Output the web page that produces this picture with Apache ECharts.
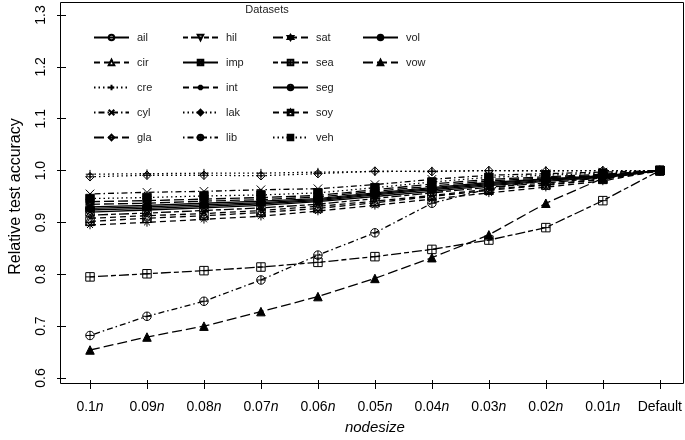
<!DOCTYPE html>
<html><head><meta charset="utf-8">
<script src="https://cdn.jsdelivr.net/npm/echarts@6/dist/echarts.min.js"></script>
<style>html,body{margin:0;padding:0;background:#fff}#c{width:685px;height:440px}</style>
</head><body><div id="c"></div>
<script>
const categories = ['0.1n','0.09n','0.08n','0.07n','0.06n','0.05n','0.04n','0.03n','0.02n','0.01n','Default'];
const yTicks = [0.6,0.7,0.8,0.9,1.0,1.1,1.2,1.3];

const ail = [0.924,0.927,0.931,0.936,0.942,0.953,0.963,0.973,0.981,0.988,1.0];
const cir = [0.908,0.913,0.917,0.923,0.931,0.941,0.952,0.964,0.973,0.984,1.0];
const cre = [0.993,0.994,0.995,0.995,0.997,0.998,0.999,1.0,1.0,1.0,1.0];
const cyl = [0.955,0.958,0.960,0.963,0.965,0.973,0.983,0.991,0.994,0.997,1.0];
const gla = [0.935,0.937,0.941,0.944,0.949,0.960,0.970,0.980,0.986,0.991,1.0];
const hil = [0.914,0.918,0.923,0.928,0.935,0.946,0.957,0.968,0.976,0.986,1.0];
const imp = [0.920,0.924,0.928,0.933,0.940,0.950,0.960,0.971,0.979,0.987,1.0];
const int_ = [0.895,0.900,0.906,0.912,0.922,0.933,0.945,0.957,0.968,0.980,1.0];
const lak = [0.988,0.991,0.991,0.990,0.994,0.999,0.998,1.0,0.999,1.0,1.0];
const lib = [0.682,0.719,0.748,0.789,0.837,0.880,0.937,0.965,0.982,0.992,1.0];
const sat = [0.940,0.942,0.945,0.948,0.952,0.963,0.974,0.983,0.988,0.993,1.0];
const sea = [0.795,0.801,0.807,0.814,0.823,0.834,0.848,0.866,0.890,0.942,1.0];
const seg = [0.930,0.933,0.937,0.941,0.946,0.957,0.967,0.977,0.984,0.990,1.0];
const soy = [0.902,0.908,0.913,0.919,0.927,0.938,0.950,0.962,0.972,0.983,1.0];
const veh = [0.946,0.948,0.951,0.953,0.957,0.967,0.978,0.987,0.991,0.995,1.0];
const vol = [0.927,0.930,0.934,0.938,0.944,0.955,0.965,0.975,0.983,0.989,1.0];
const vow = [0.654,0.679,0.700,0.728,0.757,0.792,0.832,0.876,0.937,0.985,1.0];

const seriesNames = ['ail','cir','cre','cyl','gla','hil','imp','int','lak','lib','sat','sea','seg','soy','veh','vol','vow'];
const seriesData = {ail,cir,cre,cyl,gla,hil,imp,int:int_,lak,lib,sat,sea,seg,soy,veh,vol,vow};
const legendCols = [['ail','cir','cre','cyl','gla'],['hil','imp','int','lak','lib'],['sat','sea','seg','soy','veh'],['vol','vow']];

// styles
const DASH = {solid:'solid', dashed:[6,4], dotted:[1.5,3], dotdash:[1.5,3,6,3], longdash:[10,4], twodash:[5,3,10,3]};
const CIRC = 'M0,5A5,5,0,1,1,10,5A5,5,0,1,1,0,5Z';
const SYM = {
  ail:['circle',false,'solid'],
  cir:['triangle',false,'dashed'],
  cre:['path://M5,0L5,10M0,5L10,5',false,'dotted'],
  cyl:['path://M0,0L10,10M10,0L0,10',false,'dotdash'],
  gla:['diamond',false,'longdash'],
  hil:['path://M0,0L10,0L5,9Z',false,'twodash'],
  imp:['path://M0,0L10,0L10,10L0,10ZM0,0L10,10M10,0L0,10',false,'solid'],
  int:['path://M5,0L5,10M0,5L10,5M1.5,1.5L8.5,8.5M8.5,1.5L1.5,8.5',false,'dashed'],
  lak:['path://M5,0L10,5L5,10L0,5ZM5,0L5,10M0,5L10,5',false,'dotted'],
  lib:['path://'+CIRC+'M5,0L5,10M0,5L10,5',false,'dotdash'],
  sat:['path://M5,0L10,7.5L0,7.5ZM5,10L0,2.5L10,2.5Z',false,'longdash'],
  sea:['path://M0,0L10,0L10,10L0,10ZM5,0L5,10M0,5L10,5',false,'twodash'],
  seg:['path://'+CIRC+'M1.5,1.5L8.5,8.5M8.5,1.5L1.5,8.5',false,'solid'],
  soy:['path://M0,0L10,0L10,10L0,10ZM0,10L5,0L10,10',false,'dashed'],
  veh:['rect',true,'dotted'],
  vol:['circle',true,'solid'],
  vow:['triangle',true,'longdash']
};

const FONT = '"Liberation Sans", Arial, Helvetica, sans-serif';
const series = seriesNames.map(n => {
  const s = SYM[n];
  return {
    name: n, type: 'line', data: seriesData[n],
    symbol: s[0], symbolSize: 8.5, showSymbol: true,
    itemStyle: {color: s[1] ? '#000' : 'transparent', borderColor: '#000', borderWidth: 1},
    lineStyle: {color: '#000', width: 1.3, type: DASH[s[2]]},
    emphasis: {disabled: true}
  };
});

const chart = echarts.init(document.getElementById('c'), null, {renderer: 'canvas'});
chart.setOption({
  animation: false,
  backgroundColor: '#fff',
  textStyle: {fontFamily: FONT},
  grid: {left: 84, right: 25, top: 15, bottom: 59},
  xAxis: {
    type: 'category', data: categories, boundaryGap: false, offset: 2,
    axisLine: {show: false},
    axisTick: {show: true, length: 9, interval: 0, alignWithLabel: true, lineStyle: {color: '#000'}},
    axisLabel: {
      color: '#000', fontSize: 14, margin: 20, interval: 0, fontFamily: FONT,
      formatter: v => v === 'Default' ? v : v.slice(0, -1) + '{i|n}',
      rich: {i: {fontStyle: 'italic', fontSize: 14, color: '#000', fontFamily: FONT}}
    },
    splitLine: {show: false},
    name: 'nodesize', nameLocation: 'middle', nameGap: 40,
    nameTextStyle: {fontStyle: 'italic', fontSize: 15, color: '#000', fontFamily: FONT}
  },
  yAxis: {
    type: 'value', min: yTicks[0], max: yTicks[yTicks.length - 1], interval: 0.1, offset: 24,
    axisLine: {show: false},
    axisTick: {show: true, length: 9, lineStyle: {color: '#000'}},
    axisLabel: {color: '#000', fontSize: 14, rotate: 90, margin: 18, fontFamily: FONT,
      formatter: v => v.toFixed(1)},
    splitLine: {show: false},
    name: 'Relative test accuracy', nameLocation: 'middle', nameRotate: 90, nameGap: 42,
    nameTextStyle: {fontSize: 16, color: '#000', fontFamily: FONT}
  },
  legend: legendCols.map((names, i) => ({
    data: names, orient: 'vertical', left: [88, 177, 267, 357][i], top: 27,
    itemWidth: 35, itemHeight: 7, itemGap: 14, selectedMode: false,
    textStyle: {fontSize: 11, color: '#222', padding: [0, 0, 0, 3], fontFamily: FONT}
  })),
  graphic: [
    {type: 'rect', shape: {x: 60.5, y: 2.5, width: 623, height: 381}, style: {fill: 'none', stroke: '#000', lineWidth: 1}, silent: true, z: 100},
    {type: 'text', x: 267, y: 10, style: {text: 'Datasets', fontSize: 11, fill: '#222', fontFamily: FONT, textAlign: 'center', textVerticalAlign: 'middle'}, silent: true}
  ],
  series: series
});
</script>
</body></html>
